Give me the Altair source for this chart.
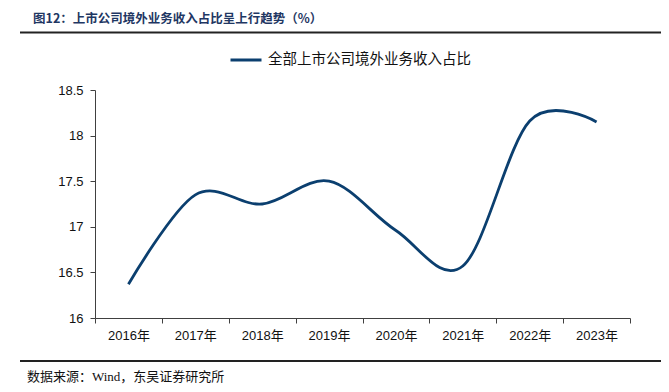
import altair as alt
import pandas as pd

years = ["2016年", "2017年", "2018年", "2019年", "2020年", "2021年", "2022年", "2023年"]
values = [16.37, 17.35, 17.25, 17.50, 16.96, 16.57, 18.16, 18.15]
series_name = "全部上市公司境外业务收入占比"
title_text = "图12：上市公司境外业务收入占比呈上行趋势（%）"
source_text = "数据来源：Wind，东吴证券研究所"
y_ticks = [16, 16.5, 17, 17.5, 18, 18.5]

df = pd.DataFrame({"year": years, "value": values, "series": [series_name] * len(years)})

W, H = 535, 228
LINE_COLOR = "#0b3f6f"
AX_FONT = "Liberation Sans, Noto Sans CJK SC"

line = alt.Chart(df).mark_line(
    interpolate="cardinal", strokeWidth=2.8
).encode(
    x=alt.X(
        "year:N",
        sort=years,
        bandPosition=0.5,
        scale=alt.Scale(type="band", paddingInner=0, paddingOuter=0),
        axis=alt.Axis(
            title=None, tickBand="extent", labelAngle=0, grid=False,
            domainColor="#404040", tickColor="#404040", tickSize=5,
            labelFont=AX_FONT, labelFontSize=13, labelColor="#111111",
            labelPadding=6,
        ),
    ),
    y=alt.Y(
        "value:Q",
        scale=alt.Scale(domain=[16, 18.5], nice=False, zero=False),
        axis=alt.Axis(
            title=None, values=y_ticks, format=".1~f", grid=False,
            domainColor="#404040", tickColor="#404040", tickSize=5,
            labelFont=AX_FONT, labelFontSize=13, labelColor="#111111",
            labelPadding=7,
        ),
    ),
    color=alt.Color(
        "series:N",
        scale=alt.Scale(range=[LINE_COLOR]),
        legend=alt.Legend(
            title=None, orient="none", legendX=134, legendY=-47,
            symbolType="stroke", symbolSize=961, symbolStrokeWidth=3,
            labelFont="Noto Sans CJK SC", labelFontSize=14.5, labelColor="#111111",
            labelLimit=400, padding=0, labelOffset=5,
        ),
    ),
)

one = pd.DataFrame({"t": [title_text], "s": [source_text]})

title = alt.Chart(one).mark_text(
    align="left", baseline="middle", font="Noto Sans CJK SC", fontSize=12.5,
    fontWeight="bold", color="#1f3763",
).encode(text="t:N", x=alt.value(-62), y=alt.value(-71))

source = alt.Chart(one).mark_text(
    align="left", baseline="middle", font="Liberation Serif, Noto Sans CJK SC",
    fontSize=13, color="#111111",
).encode(text="s:N", x=alt.value(-68), y=alt.value(287))

top_rule = alt.Chart(one).mark_rule(color="#222222", strokeWidth=2).encode(
    x=alt.value(-75), x2=alt.value(574), y=alt.value(-57.5)
)
bottom_rule = alt.Chart(one).mark_rule(color="#222222", strokeWidth=2).encode(
    x=alt.value(-75), x2=alt.value(574), y=alt.value(271)
)

chart = alt.layer(top_rule, bottom_rule, title, source, line).properties(
    width=W, height=H,
    padding={"left": 87, "top": 82, "right": 31, "bottom": 66},
    autosize=alt.AutoSizeParams(type="none"),
).configure_view(stroke=None)

chart.save("out.html", embed_options={"renderer": "svg", "actions": False})
